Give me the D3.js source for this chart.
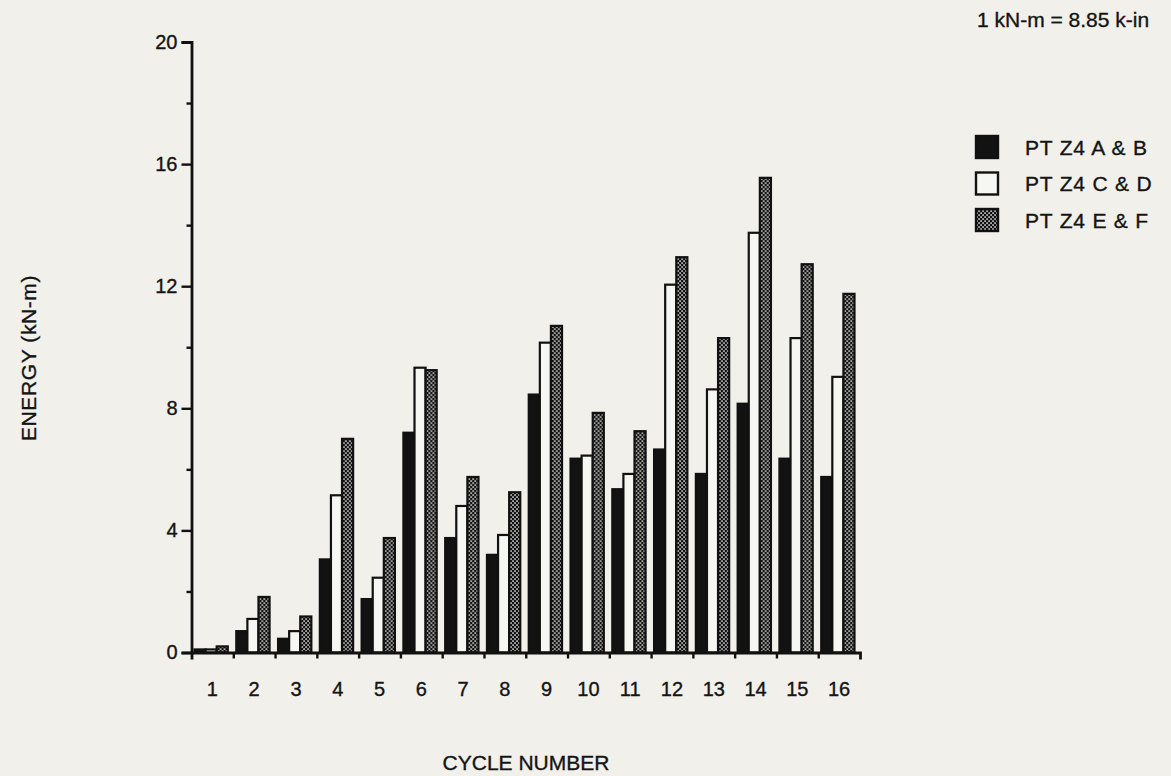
<!DOCTYPE html>
<html>
<head>
<meta charset="utf-8">
<script src="https://cdn.jsdelivr.net/npm/d3@7"></script>
<style>
  html, body { margin: 0; padding: 0; background: #f1f0eb; }
  svg { display: block; }
  text { font-family: "Liberation Sans", Arial, Helvetica, sans-serif; fill: #141414; stroke: #141414; stroke-width: 0.35px; }
</style>
</head>
<body>
<svg id="chart" width="1171" height="776"></svg>
<script>
// ---- data ----
const cycles = ["1","2","3","4","5","6","7","8","9","10","11","12","13","14","15","16"];
const seriesNames = ["PT Z4 A & B", "PT Z4 C & D", "PT Z4 E & F"];
const seriesAB = [0.1, 0.7, 0.45, 3.05, 1.75, 7.2, 3.75, 3.2, 8.45, 6.35, 5.35, 6.65, 5.85, 8.15, 6.35, 5.75];
const seriesCD = [0.1, 1.1, 0.7, 5.15, 2.45, 9.33, 4.8, 3.85, 10.15, 6.45, 5.85, 12.05, 8.62, 13.75, 10.3, 9.03];
const seriesEF = [0.2, 1.82, 1.18, 7.0, 3.75, 9.25, 5.75, 5.25, 10.7, 7.85, 7.25, 12.95, 10.3, 15.55, 12.72, 11.75];
const yMajorTicks = [0, 4, 8, 12, 16, 20];
const yMinorTicks = [2, 6, 10, 14, 18];
const xTitle = "CYCLE NUMBER";
const yTitle = "ENERGY (kN-m)";
const note = "1 kN-m = 8.85 k-in";

const seriesValues = [seriesAB, seriesCD, seriesEF];
const svg = d3.select("#chart");

// pattern for E & F
const defs = svg.append("defs");
const pat = defs.append("pattern").attr("id", "checker")
  .attr("patternUnits", "userSpaceOnUse").attr("width", 4).attr("height", 4);
pat.append("rect").attr("width", 4).attr("height", 4).attr("fill", "#111");
pat.append("rect").attr("x", 0.3).attr("y", 0.3).attr("width", 1.5).attr("height", 1.5).attr("fill", "#f4f4f0");
pat.append("rect").attr("x", 2.3).attr("y", 2.3).attr("width", 1.5).attr("height", 1.5).attr("fill", "#f4f4f0");

const fills = ["#121212", "#f6f6f2", "url(#checker)"];

// ---- scales ----
const plotLeft = 191.5, plotRight = 860, plotTop = 42, plotBottom = 652.5;
const x0 = d3.scaleBand().domain(cycles).range([plotLeft, plotRight]).padding(0);
const x1 = d3.scaleBand().domain(seriesNames).range([3, x0.bandwidth() - 5.5]).padding(0);
const y = d3.scaleLinear().domain([0, 20]).range([plotBottom, plotTop]);
const xEdges = d3.scaleLinear().domain([0, cycles.length]).range([plotLeft, plotRight]);

// ---- bars ----
const groups = svg.append("g").selectAll("g").data(cycles).join("g")
  .attr("transform", d => `translate(${x0(d)},0)`);
groups.selectAll("rect")
  .data((c, i) => seriesNames.map((s, k) => ({ s, k, v: seriesValues[k][i] })))
  .join("rect")
  .attr("x", d => x1(d.s))
  .attr("width", x1.bandwidth())
  .attr("y", d => y(d.v))
  .attr("height", d => y(0) - y(d.v))
  .attr("fill", d => fills[d.k])
  .attr("stroke", "#111")
  .attr("stroke-width", 2.2);

// ---- axes ----
const axisStyle = g => {
  g.selectAll(".domain").attr("stroke", "#111").attr("stroke-width", 2.8);
  g.selectAll(".tick line").attr("stroke", "#111").attr("stroke-width", 2.4);
  g.selectAll("text").style("font-size", "20px").attr("fill", "#141414");
};

// x ticks at group edges
svg.append("g").attr("transform", `translate(0,${plotBottom})`)
  .call(d3.axisBottom(xEdges).tickValues(d3.range(1, cycles.length)).tickSize(6).tickSizeOuter(7).tickFormat(""))
  .call(axisStyle);
// x labels at group centers
svg.append("g").attr("transform", `translate(0,${plotBottom})`)
  .call(d3.axisBottom(x0).tickSize(0).tickPadding(29))
  .call(g => g.select(".domain").remove())
  .call(axisStyle);

// y minor ticks
svg.append("g").attr("transform", `translate(${plotLeft},0)`)
  .call(d3.axisLeft(y).tickValues(yMinorTicks).tickSize(5).tickFormat(""))
  .call(g => g.select(".domain").remove())
  .call(axisStyle);
// y major ticks
svg.append("g").attr("transform", `translate(${plotLeft},0)`)
  .call(d3.axisLeft(y).tickValues(yMajorTicks).tickSize(10).tickSizeOuter(10).tickPadding(4).tickFormat(d3.format("d")))
  .call(axisStyle);

// ---- titles ----
svg.append("text").attr("x", 526).attr("y", 770).attr("text-anchor", "middle")
  .style("font-size", "21px").text(xTitle);
svg.append("text").attr("transform", "translate(36,358) rotate(-90)").attr("text-anchor", "middle")
  .style("font-size", "21px").style("letter-spacing", "0.6px").text(yTitle);
svg.append("text").attr("x", 977).attr("y", 27).style("font-size", "21px").text(note);

// ---- legend ----
const legend = svg.append("g").selectAll("g").data(seriesNames).join("g")
  .attr("transform", (d, i) => `translate(976,${147 + i * 36.5})`);
legend.append("rect").attr("x", 0).attr("y", -11).attr("width", 22).attr("height", 22)
  .attr("fill", (d, i) => fills[i]).attr("stroke", "#111").attr("stroke-width", 2.4);
legend.append("text").attr("x", 49).attr("y", 0).attr("dy", "0.36em")
  .style("font-size", "21px").style("letter-spacing", "0.8px").text(d => d);
</script>
</body>
</html>
